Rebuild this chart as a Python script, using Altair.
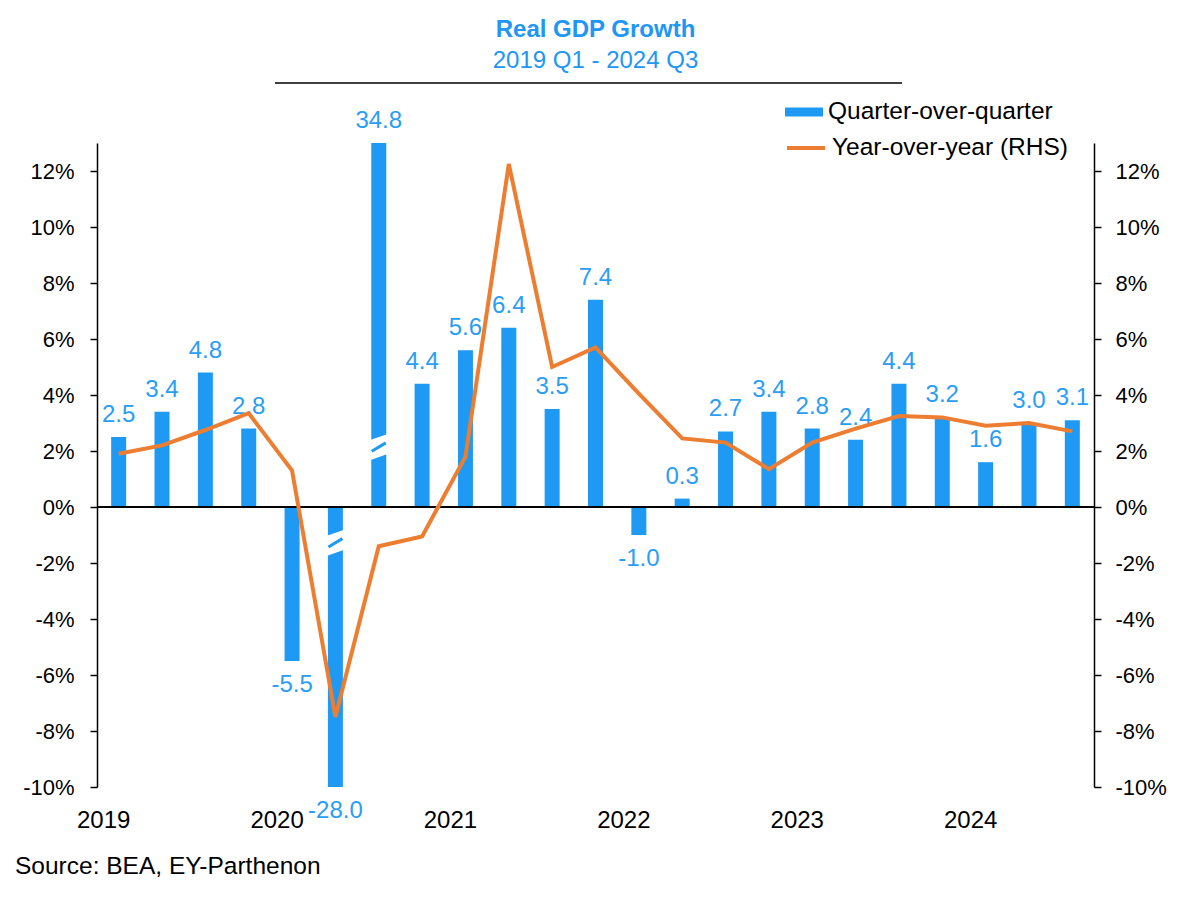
import altair as alt
import pandas as pd

quarters = ["2019Q1", "2019Q2", "2019Q3", "2019Q4",
            "2020Q1", "2020Q2", "2020Q3", "2020Q4",
            "2021Q1", "2021Q2", "2021Q3", "2021Q4",
            "2022Q1", "2022Q2", "2022Q3", "2022Q4",
            "2023Q1", "2023Q2", "2023Q3", "2023Q4",
            "2024Q1", "2024Q2", "2024Q3"]
qoq = [2.5, 3.4, 4.8, 2.8, -5.5, -28.0, 34.8, 4.4, 5.6, 6.4, 3.5, 7.4,
       -1.0, 0.3, 2.7, 3.4, 2.8, 2.4, 4.4, 3.2, 1.6, 3.0, 3.1]
yoy = [1.9, 2.2, 2.75, 3.35, 1.3, -7.5, -1.4, -1.05, 1.8, 12.25, 5.0, 5.7,
       4.05, 2.45, 2.3, 1.35, 2.3, 2.8, 3.25, 3.2, 2.9, 3.0, 2.7]
y_ticks = [-10, -8, -6, -4, -2, 0, 2, 4, 6, 8, 10, 12]

title_text = "Real GDP Growth"
subtitle_text = "2019 Q1 - 2024 Q3"
source_text = "Source: BEA, EY-Parthenon"
bar_name = "Quarter-over-quarter"
line_name = "Year-over-year (RHS)"

FONT = "Liberation Sans"
BLUE = "#1E9AF4"
LABEL_BLUE = "#2A9DF4"
TITLE_BLUE = "#2196F3"
ORANGE = "#ED7D31"

df = pd.DataFrame({"quarter": quarters, "qoq": qoq, "yoy": yoy})
base = alt.Chart(df)

W, H = 997, 644

x_enc = alt.X(
    "quarter:N", sort=quarters,
    scale=alt.Scale(paddingInner=0, paddingOuter=0),
    axis=alt.Axis(
        labelExpr="slice(datum.value, 4) == 'Q1' ? slice(datum.value, 0, 4) : ''",
        labelAngle=0, ticks=False, tickSize=0, domain=False, labelOffset=-15,
        labelPadding=21, labelFont=FONT, labelFontSize=24, labelColor="black",
        title=None,
    ),
)

yscale = alt.Scale(domain=[-10, 13], nice=False)


def y_axis(orient, pad):
    return alt.Axis(
        orient=orient, values=y_ticks, labelExpr="datum.value + '%'", grid=False,
        tickSize=7, tickWidth=1.5, tickColor="black", domainColor="black",
        domainWidth=1.5, labelFont=FONT, labelFontSize=22, labelColor="black",
        labelPadding=pad, title=None,
    )


LEFT_AXIS = y_axis("left", 16)

shown = base.transform_calculate(
    shown="clamp(datum.qoq, -10, 13)",
    series="'" + bar_name + "'",
    lbl="(datum.qoq < 0 ? '-' : '') + format(abs(datum.qoq), '.1f')",
)

bars = shown.mark_bar(size=15).encode(
    x=x_enc,
    y=alt.Y("shown:Q", scale=yscale, axis=LEFT_AXIS),
    fill=alt.Fill(
        "series:N",
        scale=alt.Scale(domain=[bar_name], range=[BLUE]),
        legend=alt.Legend(
            orient="none", legendX=688, legendY=-50, title=None,
            symbolType="M-1,-0.24L1,-0.24L1,0.24L-1,0.24Z", symbolSize=1444,
            symbolStrokeWidth=0, symbolOpacity=1, labelFont=FONT,
            labelFontSize=24.5, labelColor="black", labelOffset=5, padding=0,
            labelLimit=400,
        ),
    ),
)

zero_rule = shown.mark_rule(color="black", strokeWidth=2).encode(
    y=alt.YDatum(0, scale=yscale, axis=LEFT_AXIS)
)

breaks = shown.transform_filter("datum.qoq > 13 || datum.qoq < -10").transform_calculate(
    b1="datum.qoq > 13 ? 1.99 : -1.43",
    b2="datum.qoq > 13 ? 2.29 : -1.13",
)
break_white = breaks.mark_rule(color="white", strokeWidth=19, xOffset=-12, x2Offset=12).encode(
    x=x_enc, x2="quarter:N", y=alt.Y("b1:Q", scale=yscale, axis=LEFT_AXIS), y2="b2:Q"
)
break_blue = breaks.mark_rule(color=BLUE, strokeWidth=3, xOffset=-7, x2Offset=7).encode(
    x=x_enc, x2="quarter:N", y=alt.Y("b1:Q", scale=yscale, axis=LEFT_AXIS), y2="b2:Q"
)

pos_labels = shown.transform_filter("datum.qoq >= 0").mark_text(
    baseline="alphabetic", dy=-15, font=FONT, fontSize=24, color=LABEL_BLUE
).encode(
    x=x_enc,
    y=alt.Y("shown:Q", scale=yscale, axis=LEFT_AXIS),
    text="lbl:N",
)
neg_labels = shown.transform_filter("datum.qoq < 0").mark_text(
    baseline="top", dy=12, font=FONT, fontSize=24, color=LABEL_BLUE
).encode(
    x=x_enc,
    y=alt.Y("shown:Q", scale=yscale, axis=LEFT_AXIS),
    text="lbl:N",
)

src = alt.Chart(pd.DataFrame({"t": [source_text]})).mark_text(
    align="left", baseline="alphabetic", font=FONT, fontSize=24.5, color="black"
).encode(x=alt.value(-82), y=alt.value(731), text="t:N")

underline = alt.Chart(pd.DataFrame({"t": [1]})).mark_rule(
    color="black", strokeWidth=1.5
).encode(x=alt.value(178), x2=alt.value(805), y=alt.value(-60))

left = alt.layer(bars, zero_rule, break_white, break_blue, pos_labels, neg_labels, src, underline)

line = base.transform_calculate(series2="'" + line_name + "'").mark_line(
    strokeWidth=4
).encode(
    x=x_enc,
    y=alt.Y("yoy:Q", scale=yscale, axis=y_axis("right", 14)),
    stroke=alt.Stroke(
        "series2:N",
        scale=alt.Scale(domain=[line_name], range=[ORANGE]),
        legend=alt.Legend(
            orient="none", legendX=688, legendY=-16, title=None,
            symbolType="stroke", symbolSize=1444, symbolStrokeWidth=4,
            labelFont=FONT, labelFontSize=24.5, labelColor="black",
            labelOffset=5, padding=0, labelLimit=400,
        ),
    ),
)

chart = alt.layer(left, line).resolve_scale(y="independent").properties(
    width=W, height=H,
    title=alt.TitleParams(
        text=title_text, subtitle=subtitle_text, font=FONT, fontSize=24,
        fontWeight="bold", color=TITLE_BLUE, subtitleFont=FONT,
        subtitleFontSize=24, subtitleColor=TITLE_BLUE, anchor="middle",
        offset=9, subtitlePadding=7,
    ),
    autosize=alt.AutoSizeParams(type="none"),
    padding={"left": 97, "top": 143, "right": 106, "bottom": 112},
).configure_view(strokeWidth=0)

chart.save("out.html", embed_options={"renderer": "svg", "actions": False})
